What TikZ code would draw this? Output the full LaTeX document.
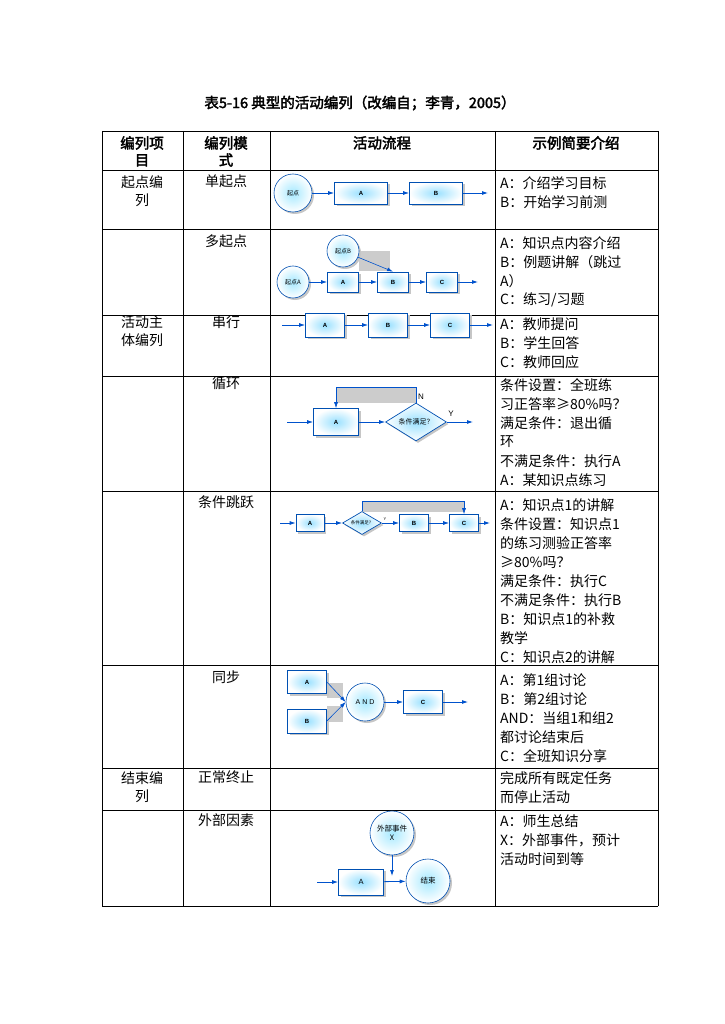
\documentclass[tikz,border=0pt]{standalone}
\usepackage{fontspec}
\setmainfont{Noto Sans CJK SC}
\newfontfamily\hd[FakeBold=2.5]{Noto Sans CJK SC}
\newfontfamily\lat{Liberation Sans}
\usetikzlibrary{shapes.geometric,arrows.meta,shadows}
\begin{document}
\begin{tikzpicture}[x=1pt,y=-1pt,
  tline/.style={line width=0.9pt},
  cell/.style={font=\fontsize{14}{18}\selectfont, align=center, anchor=north, inner sep=0},
  txt/.style={font=\fontsize{14}{18}\selectfont, anchor=west, inner sep=0},
  hdr/.style={font=\hd\fontsize{14.5}{17}\selectfont, align=center, anchor=north, inner sep=0},
  sh/.style={drop shadow={fill=gray!45, opacity=1, shadow xshift=2pt, shadow yshift=-2pt}},
  bx/.style={draw=blue!55!cyan!70!black, line width=0.7pt, shading=radial, inner color=blue!30!cyan!40, outer color=white, minimum height=#1, inner sep=0, font=\lat\fontsize{6}{6}\selectfont\bfseries, sh},
  bx/.default=22pt,
  cir/.style={circle, draw=blue!55!cyan!70!black, line width=0.6pt, shading=radial, inner color=blue!25!cyan!35, outer color=white, inner sep=0, font=\fontsize{6}{7}\selectfont, align=center, sh},
  dia/.style={diamond, aspect=1.6, draw=blue!55!cyan!70!black, line width=0.7pt, shading=radial, inner color=blue!30!cyan!40, outer color=white, inner sep=0, font=\fontsize{7}{7}\selectfont, sh},
  ar/.style={draw=blue!60!cyan!80!black, line width=0.8pt, -{Latex[length=6pt,width=4pt]}},
  gr/.style={fill=gray!40, draw=none}
]
\useasboundingbox (0,0) rectangle (724,1024);
\node[font=\hd\fontsize{14.5}{17}\selectfont] (title) at (360,103) {表5-16 典型的活动编列（改编自；李青，2005）};
% table lines
\foreach \y in {131,170,229,315,376,491,665,768,810,906} \draw[tline] (102,\y) -- (658,\y);
\draw[tline] (102,131) -- (102,906);
\draw[tline] (658,131) -- (658,906);
\draw[tline] (183,131) -- (183,906);
\draw[tline] (270,131) -- (270,906);
\draw[tline] (495,131) -- (495,906);
% header
\node[hdr] (h1) at (142,136) {编列项\\目};
\node[hdr] (h2) at (226,136) {编列模\\式};
\node[hdr] (h3) at (382,136) {活动流程};
\node[hdr] (h4) at (576,136) {示例简要介绍};
% col1
\node[cell] (c1) at (142,175) {起点编\\列};
\node[cell] (c2) at (142,316) {活动主\\体编列};
\node[cell] (c3) at (142,771) {结束编\\列};
% col2
\foreach \t/\y [count=\i] in {单起点/175,多起点/235,串行/316,循环/377,条件跳跃/496,同步/671,正常终止/771,外部因素/813}
  \node[cell] (m\i) at (226,\y) {\t};
% col4
\foreach \t/\y [count=\i] in {A：介绍学习目标/183,B：开始学习前测/202,
 A：知识点内容介绍/243,B：例题讲解（跳过/262,A）/281,{C：练习/习题}/300,
 A：教师提问/324,B：学生回答/343,C：教师回应/362,
 条件设置：全班练/385,习正答率≥80\%吗？/404,满足条件：退出循/423,环/442,不满足条件：执行A/461,A：某知识点练习/480,
 A：知识点1的讲解/505,条件设置：知识点1/524,的练习测验正答率/543,≥80\%吗？/562,满足条件：执行C/581,不满足条件：执行B/600,B：知识点1的补救/619,教学/638,C：知识点2的讲解/657,
 A：第1组讨论/680,B：第2组讨论/699,AND：当组1和组2/718,都讨论结束后/737,C：全班知识分享/756,
 完成所有既定任务/778,而停止活动/797,
 A：师生总结/821,X：外部事件，预计/840,活动时间到等/859}
  \node[txt] (t\i) at (500,\y) {\t};
% row1 单起点
\node[cir, minimum size=38pt] (s0) at (293,193) {起点};
\node[bx, minimum width=53pt] (s1) at (361,193) {A};
\node[bx, minimum width=53pt] (s2) at (436,193) {B};
\coordinate (s3) at (488,193);
\draw[ar] (s0) -- (s1); \draw[ar] (s1) -- (s2); \draw[ar] (s2) -- (s3);
% row2 多起点
\fill[gr] (359,251) rectangle (390,271);
\node[cir, minimum size=32pt] (pB) at (343,251) {起点B};
\node[cir, minimum size=32pt] (pA) at (293,282) {起点A};
\node[bx=20pt, minimum width=31pt] (p1) at (343,282) {A};
\node[bx=20pt, minimum width=31pt] (p2) at (393,282) {B};
\node[bx=20pt, minimum width=31pt] (p3) at (442,282) {C};
\coordinate (p4) at (478,282);
\draw[ar] (pA) -- (p1); \draw[ar] (p1) -- (p2); \draw[ar] (p2) -- (p3); \draw[ar] (p3) -- (p4);
\draw[ar, line width=0.6pt] (pB) -- (p2.north);
% row3 串行
\coordinate (r0) at (282,325);
\node[bx=24pt, minimum width=39pt] (r1) at (325,325) {A};
\node[bx=24pt, minimum width=39pt] (r2) at (388,325) {B};
\node[bx=24pt, minimum width=39pt] (r3) at (450,325) {C};
\coordinate (r4) at (493,325);
\draw[ar] (r0) -- (r1); \draw[ar] (r1) -- (r2); \draw[ar] (r2) -- (r3); \draw[ar] (r3) -- (r4);
% row4 循环
\fill[gr] (336,387) rectangle (416,403);
\coordinate (l0) at (287,422);
\node[bx=27pt, minimum width=45pt] (l1) at (336,422) {A};
\node[dia, minimum width=61pt, minimum height=38pt] (l2) at (416,422) {条件满足？};
\coordinate (l3) at (473,422);
\draw[ar] (l0) -- (l1); \draw[ar] (l1) -- (l2); \draw[ar] (l2) -- (l3);
\draw[ar, line width=0.6pt] (l2.north) -- (416,387) -- (336,387) -- (l1.north);
\node[font=\lat\fontsize{8}{8}\selectfont] (lN) at (421,397) {N};
\node[font=\lat\fontsize{8}{8}\selectfont] (lY) at (451,414) {Y};
% row5 条件跳跃
\fill[gr] (362,501) rectangle (464,512);
\coordinate (j0) at (280,523);
\node[bx=17pt, minimum width=28pt] (j1) at (310,523) {A};
\node[dia, minimum width=39pt, minimum height=23pt, font=\fontsize{4.5}{5}\selectfont] (j2) at (362,523) {条件满足？};
\node[bx=17pt, minimum width=29pt] (j3) at (414,523) {B};
\node[bx=17pt, minimum width=29pt] (j4) at (464,523) {C};
\coordinate (j5) at (490,523);
\draw[ar] (j0) -- (j1); \draw[ar] (j1) -- (j2); \draw[ar] (j2) -- (j3); \draw[ar] (j3) -- (j4); \draw[ar] (j4) -- (j5);
\draw[ar, line width=0.6pt] (j2.north) -- (362,501) -- (464,501) -- (j4.north);
\node[font=\lat\fontsize{4}{4}\selectfont] (jY) at (385,519) {Y};
% row6 同步
\fill[gr] (327,683) rectangle (343,698);
\fill[gr] (327,706) rectangle (343,722);
\node[bx=23pt, minimum width=39pt] (y1) at (307,682) {A};
\node[bx=24pt, minimum width=39pt] (y2) at (307,721) {B};
\node[cir, minimum size=38pt, font=\lat\fontsize{7}{7}\selectfont] (y3) at (365,702) {A N D};
\node[bx=23pt, minimum width=39pt] (y4) at (423,702) {C};
\coordinate (y5) at (468,702);
\draw[ar, line width=0.6pt] (y1.east) -- (y3.west);
\draw[ar, line width=0.6pt] (y2.east) -- (y3.west);
\draw[ar] (y3) -- (y4); \draw[ar] (y4) -- (y5);
% row8 外部因素
\node[cir, minimum size=44pt, font=\fontsize{7.5}{9}\selectfont] (e1) at (392,833) {外部事件\\X};
\coordinate (e0) at (317,882);
\node[bx=26pt, minimum width=45pt, font=\lat\fontsize{7.5}{7.5}\selectfont] (e2) at (361,882) {A};
\node[cir, minimum size=44pt, font=\fontsize{7.5}{9}\selectfont] (e3) at (428,881) {结束};
\draw[ar] (e0) -- (e2); \draw[ar] (e2) -- (e3);
\draw[ar] (e1) -- (392,876);
\end{tikzpicture}
\end{document}
